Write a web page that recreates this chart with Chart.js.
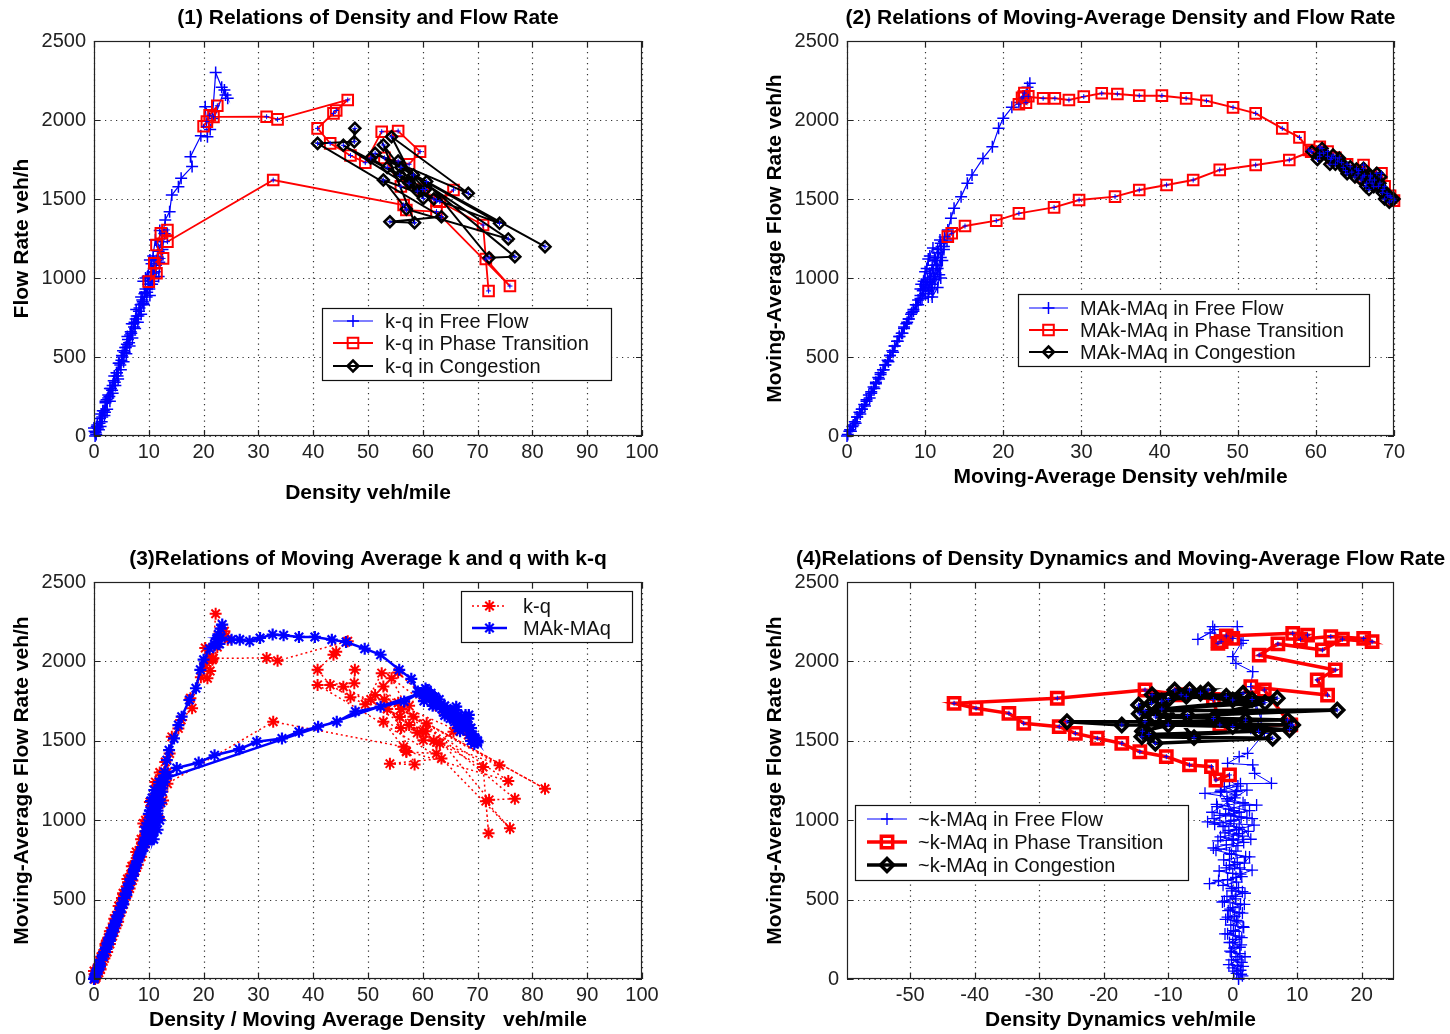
<!DOCTYPE html>
<html>
<head>
<meta charset="utf-8">
<script src="https://cdn.jsdelivr.net/npm/chart.js@4.4.1/dist/chart.umd.min.js"></script>
<style>
html, body { margin: 0; padding: 0; background: #fff; }
#wrap { position: relative; width: 1450px; height: 1034px; }
#wrap canvas { position: absolute; left: 0; top: 0; }
</style>
</head>
<body>
<div id="wrap">
  <canvas id="c1" width="1450" height="1034"></canvas>
  <canvas id="c2" width="1450" height="1034"></canvas>
  <canvas id="c3" width="1450" height="1034"></canvas>
  <canvas id="c4" width="1450" height="1034"></canvas>
</div>
<script>
// ticks
const yTicks = [0, 500, 1000, 1500, 2000, 2500];
const xTicks100 = [0, 10, 20, 30, 40, 50, 60, 70, 80, 90, 100];
const xTicks70 = [0, 10, 20, 30, 40, 50, 60, 70];
const xTicksDyn = [-50, -40, -30, -20, -10, 0, 10, 20];

// (1) density k vs flow q  [k, q], null = break in the line
const kqFree = [
  [0.1,30],[0.4,10],[0.6,70],[0.9,40],[1.1,110],[1.4,90],[1.6,160],[1.9,130],[2.1,210],[2.4,170],
  [2.6,260],[2.9,220],[3.1,300],[3.4,270],[3.6,350],[3.9,320],[4.1,400],[4.4,360],[4.6,460],[4.9,420],
  [5.1,510],[5.4,470],[5.7,560],[5.9,520],[6.2,610],[6.5,570],[6.7,660],[7.0,620],[7.2,710],[7.5,680],
  [7.8,760],[8.0,720],[8.3,810],[8.6,770],[8.8,860],[9.1,830],[9.3,910],[9.6,880],[9.9,960],[10.1,930],
  [10.4,1010],[10.6,980],[10.9,1060],[11.1,1040],[11.4,1110],[11.8,1170],[12.3,1230],[13.0,1367],[13.8,1420],[14.2,1525],
  [15.4,1578],[15.9,1631],[17.9,1705],[17.6,1768],[19.5,1900],[20.7,1894],[20.3,2084],[21.6,2010],[22.2,2300],[23.3,2207],
  [24.0,2158],[24.4,2137],[23.8,2190],[21.2,1940],
  null,
  [10.6,960],[9.8,1010],[10.2,890],[9.4,930],[9.0,840],[8.6,880],[8.2,790],[7.7,800],[7.4,720],[6.9,710],
  [6.6,640],[6.1,630],[5.8,560],[5.3,540],[5.0,480],[4.5,460],[4.2,400],[3.7,380],[3.4,320],[2.9,300],
  [2.6,240],[2.1,220],[1.8,160],[1.3,140],[1.0,80],[0.5,60],[0.2,0],[0.0,50],
  null,
  [0.3,20],[0.7,50],[1.2,60],[1.5,120],[2.0,150],[2.3,230],[2.8,250],[3.3,290],[3.8,340],[4.3,380],
  [4.8,450],[5.2,500],[5.6,530],[6.0,580],[6.4,590],[6.8,650],[7.3,690],[7.6,740],[8.1,760],[8.5,830],
  [8.9,850],[9.2,900],[9.7,910],[10.0,1000],[10.3,960],[10.7,1040],[11.0,1000],[11.3,1080],[11.6,1120],[10.2,1114],
  null,
  [9.4,1000],[10.8,1140],[11.9,1100],[12.5,1180],[11.2,1240],[10.5,1090],[9.0,980],[11.8,1010],[12.9,1280],[12.0,1300]
];
const kqTrans = [
  [20.0,1960],[20.6,1990],[21.1,2030],[22.5,2090],[21.8,2020],[31.5,2021],[33.5,2004],[46.3,2127],[43.7,2042],[44.2,2060],
  [40.8,1947],[43.1,1852],[46.8,1775],[49.5,1730],[52.5,1926],[55.5,1930],[59.5,1800],[57.5,1720],[53.0,1760],[56.0,1580],
  [60.0,1560],[62.5,1490],[65.6,1557],[63.1,1483],[71.0,1335],[72.0,918],[71.5,1120],[75.9,949],[62.5,1420],[57.0,1430],
  [56.5,1462],[32.7,1620],[13.4,1230],[13.4,1304],[12.2,1283],[11.4,1209],[12.6,1124],[11.0,1093],[11.4,1030],[10.0,977]
];
const kqCong = [
  [47.6,1947],[47.5,1863],[40.8,1852],[63.4,1388],[54.0,1356],[58.5,1350],[52.8,1842],[60.1,1504],[54.3,1894],[68.3,1536],
  [51.3,1789],[58.3,1652],[74.0,1346],[52.8,1620],[57.0,1436],[75.6,1247],[56.0,1700],[82.3,1198],[60.7,1610],[72.1,1128],
  [76.8,1135],[55.5,1740],[60.5,1560],[53.5,1700],[62.0,1500],[50.5,1760],[57.5,1600],[59.0,1550],[45.5,1840],[55.8,1650]
];

// (2) moving-average density vs moving-average flow
const maFree = [
  [0.1,10],[0.4,40],[0.7,60],[1.0,90],[1.3,120],[1.6,150],[1.9,170],[2.2,200],[2.5,230],[2.8,260],
  [3.1,280],[3.4,310],[3.7,340],[4.0,370],[4.3,400],[4.6,420],[4.9,450],[5.2,480],[5.5,510],[5.8,540],
  [6.1,570],[6.4,600],[6.7,630],[7.0,650],[7.3,680],[7.6,710],[7.9,740],[8.2,770],[8.5,800],[8.8,830],
  [9.1,860],[9.4,890],[9.7,920],[10.0,950],[10.3,990],[10.6,1030],[10.9,1080],[11.2,1130],[11.6,1180],[12.0,1220],
  [12.5,1260],[12.9,1304],[13.3,1378],[13.7,1441],[14.6,1515],[15.4,1599],[16.0,1652],[17.4,1757],[18.6,1831],[19.4,1947],
  [20.0,2011],[21.1,2080],[22.0,2110],[23.1,2207],[23.4,2232],
  null,
  [12.8,1240],[12.4,1200],[12.0,1130],[11.6,1060],[11.2,990],[10.8,930],[10.4,880],[10.9,960],[11.5,1080],[11.1,1010],
  [10.5,940],[10.0,900],[9.6,870],[9.1,830],[8.5,790],[7.9,740],[7.3,690],[6.7,630],[6.1,570],[5.5,510],
  [4.9,450],[4.3,390],[3.7,330],[3.1,270],[2.5,220],[1.9,170],[1.3,120],[0.8,70],[0.3,30],[0.0,0],
  null,
  [0.5,30],[1.1,80],[1.7,140],[2.3,190],[2.9,240],[3.5,300],[4.1,360],[4.7,420],[5.3,470],[5.9,530],
  [6.5,600],[7.1,650],[7.7,720],[8.3,780],[8.9,830],[9.4,870],[9.8,930],[10.1,970],[10.4,920],[10.7,1000],
  [11.0,1050],[10.6,980],[11.3,1110],[11.7,1160],[11.4,1080],[12.1,1200],[11.9,1240],[12.4,1230],
  null,
  [9.5,960],[10.0,1040],[9.8,980],[10.4,1120],[10.2,1060],[11.8,1020],[12.2,1110],[11.6,940],[10.9,880],[12.4,1180],
  [11.0,1190],[10.6,1140],[9.4,930],[12.0,1000]
];
const maTrans = [
  [22.0,2100],[22.4,2140],[22.9,2110],[22.7,2170],[23.2,2150],[22.6,2148],[25.1,2137],[26.6,2137],[28.4,2127],[30.3,2148],
  [32.6,2169],[34.6,2165],[37.4,2154],[40.3,2154],[43.4,2137],[46.0,2122],[49.4,2080],[52.3,2042],[55.7,1947],[57.9,1890],
  [59.1,1810],[60.5,1830],[61.5,1800],[62.5,1760],[64.0,1720],[65.5,1680],[66.1,1715],[67.0,1640],[68.4,1663],[68.8,1580],
  [69.5,1520],[70.0,1490],[66.0,1640],[62.0,1760],[60.5,1790],[59.4,1800],[56.6,1747],[52.3,1715],[47.7,1684],[44.3,1620],
  [40.9,1589],[37.4,1557],[34.3,1515],[29.7,1494],[26.5,1447],[22.0,1409],[19.1,1363],[15.1,1329],[13.4,1283],[12.9,1262]
];
const maCong = [
  [59.5,1800],[60.2,1750],[60.8,1820],[61.5,1770],[62.2,1778],[61.8,1720],[62.8,1740],[63.5,1700],[63.0,1760],[64.4,1704],
  [64.0,1660],[65.2,1690],[65.0,1640],[66.1,1694],[65.8,1620],[66.5,1600],[67.0,1650],[67.8,1663],[67.4,1578],[66.8,1560],
  [68.2,1600],[68.5,1540],[69.1,1536],[68.8,1500],[69.7,1494],[69.4,1480],[70.0,1500],[60.5,1770],[61.0,1790],[61.9,1750],
  [62.5,1720],[63.3,1730],[63.8,1680],[64.6,1670],[65.4,1660],[66.2,1650],[66.9,1620],[67.5,1620],[68.0,1580],[68.6,1560],
  [69.2,1520],[69.6,1510],[68.3,1640],[67.2,1600],[66.4,1580]
];

// (4) density dynamics vs moving-average flow
const dynFree = [
  [0.9,0],[1.3,30],[0.2,50],[1.6,80],[-0.6,90],[0.8,120],[1.9,140],[-0.2,170],[1.1,200],[0.0,230],
  [1.4,260],[-1.2,284],[0.4,300],[1.6,330],[0.6,369],[-0.8,390],[1.0,420],[-0.4,440],[1.8,470],[-1.3,490],
  [0.5,520],[1.5,550],[-0.2,570],[-2.2,621],[-3.6,600],[0.5,640],[1.2,660],[3.0,685],[-1.0,700],[0.3,720],
  [1.8,730],[2.6,769],[-0.5,790],[-2.6,811],[0.8,840],[-0.1,874],[1.5,900],[-1.2,920],[0.6,940],[3.3,969],
  [-3.9,990],[-1.5,960],[0.2,1000],[1.3,1020],[-2.0,1030],[1.0,1050],[-0.6,1070],[1.9,1095],[3.7,1095],[-0.8,1120],
  [0.3,1140],[-4.3,1169],[0.6,1180],[-1.3,1211],[1.2,1230],[6.0,1232],[3.4,1295],[3.1,1348],[-0.8,1358],[1.0,1400],
  [2.3,1421],[4.9,1547],[2.8,1579],[4.4,1631],[3.6,1736],[2.8,1841],[3.1,1935],[0.5,1988],[0.0,2030],[1.3,2114],
  [0.7,2219],[-3.1,2219],[-2.8,2200],[-5.4,2139],[-3.5,2180],[1.6,2133],
  null,
  [-0.5,1250],[0.8,1215],[-1.8,1190],[0.4,1160],[-0.9,1135],[1.6,1110],[-2.4,1085],[0.2,1060],[-1.1,1040],[2.2,1015],
  [-0.3,995],[-2.8,975],[1.0,955],[-0.6,935],[0.9,915],[-1.9,895],[0.1,880],[1.7,860],[-1.0,845],[-3.0,825],
  [0.5,805],[-0.2,785],[2.0,770],[-1.4,750],[0.7,735],[-0.5,715],[1.1,700],[-2.1,680],[0.0,665],[1.4,645],
  [-0.8,625],[0.6,610],[-1.5,590],[0.9,575],[-0.1,555],[1.9,540],[-0.9,520],[0.4,505],[-1.6,485],[1.2,470],
  [0.0,450],[-0.7,430],[1.5,415],[0.3,395],[-1.1,375],[0.8,360],[-0.3,340],[1.7,325],[0.1,305],[-0.8,285],
  [1.0,270],[0.4,250],[-0.5,230],[1.3,215],[0.2,195],[-0.4,175],[1.1,160],[0.5,140],[-0.2,120],[1.4,105],
  [0.7,85],[0.0,70],[1.2,55],[0.6,35],[1.5,20],[0.9,5],
  null,
  [-2.5,1100],[2.6,1060],[-2.9,1010],[2.4,930],[-2.3,870],[2.8,880],[-1.9,1180],[2.2,1190],[-3.2,1050],[3.0,1010]
];
const dynTrans = [
  [-1.8,2124],[0.0,2145],[-2.3,2114],[-1.0,2160],[9.3,2177],[11.6,2166],[10.5,2140],[15.2,2156],[20.3,2145],[21.6,2124],
  [17.0,2140],[13.9,2072],[7.0,2110],[4.1,2040],[15.9,1946],[13.1,1883],[14.7,1788],[2.8,1841],[4.9,1820],[9.0,1600],
  [-2.0,1600],[-3.0,1760],[-8.0,1790],[-13.6,1820],[-27.2,1768],[-43.2,1736],[-39.8,1705],[-34.7,1673],[-32.4,1610],[-26.9,1589],
  [-24.4,1547],[-21.0,1516],[-17.2,1484],[-14.4,1431],[-10.3,1400],[-6.7,1348],[-3.3,1337],[-2.6,1253],[-0.5,1285]
];
const dynCong = [
  [-14.6,1725],[-12.6,1736],[-9.0,1820],[-6.7,1820],[-3.8,1820],[-10.0,1760],[1.6,1799],[0.0,1757],[-7.2,1780],[6.9,1768],
  [-13.6,1690],[16.2,1694],[-12.0,1650],[8.5,1631],[-25.7,1620],[-17.2,1600],[9.3,1600],[-13.6,1620],[8.8,1570],[-14.1,1526],
  [6.2,1516],[-12.0,1484],[-14.0,1560],[5.0,1740],[-11.0,1700],[-12.5,1790],[-5.0,1800],[-1.0,1780],[3.0,1760],[-14.5,1670],
  [-7.0,1660],[-3.0,1640],[2.0,1630],[-10.0,1600],[0.0,1590],[4.0,1560],[-13.0,1540],[-6.0,1520],[-11.0,1750]
];

const FONT = '"Liberation Sans", Arial, Helvetica, sans-serif';
const NONE = 'rgba(0,0,0,0)';

const pts = arr => arr.map(p => p ? { x: p[0], y: p[1] } : { x: null, y: null });

function series(label, arr, st) {
  return Object.assign({
    label: label,
    data: pts(arr),
    showLine: true,
    clip: false,
    backgroundColor: NONE,
    pointBackgroundColor: NONE
  }, st);
}

function style(color, lw, marker, r, mw, dash) {
  return {
    borderColor: color, borderWidth: lw, borderDash: dash || [],
    pointStyle: marker, pointRadius: r, pointHoverRadius: r,
    pointBorderColor: color, pointBorderWidth: mw
  };
}

// markers for the legend samples
function drawMarker(ctx, st, x, y, r) {
  ctx.beginPath();
  if (st === 'cross' || st === 'star') {
    ctx.moveTo(x - r, y); ctx.lineTo(x + r, y);
    ctx.moveTo(x, y - r); ctx.lineTo(x, y + r);
    if (st === 'star') {
      const d = r * Math.SQRT1_2;
      ctx.moveTo(x - d, y - d); ctx.lineTo(x + d, y + d);
      ctx.moveTo(x - d, y + d); ctx.lineTo(x + d, y - d);
    }
  } else if (st === 'rect') {
    const s = r * Math.SQRT1_2;
    ctx.rect(x - s, y - s, 2 * s, 2 * s);
  } else if (st === 'rectRot') {
    ctx.moveTo(x, y - r); ctx.lineTo(x + r, y); ctx.lineTo(x, y + r); ctx.lineTo(x - r, y); ctx.closePath();
  }
  ctx.stroke();
}

// grid, box, inward ticks, legend and title drawn like the original figure
function frame(cfg) {
  return {
    id: 'frame',
    beforeDatasetsDraw(chart) {
      const { ctx, chartArea: a, scales: { x, y } } = chart;
      ctx.save();
      ctx.strokeStyle = '#333';
      ctx.lineWidth = 1.2;
      ctx.setLineDash([1.2, 4.3]);
      ctx.beginPath();
      x.ticks.forEach(t => {
        const px = Math.round(x.getPixelForValue(t.value)) + 0.5;
        ctx.moveTo(px, a.top); ctx.lineTo(px, a.bottom);
      });
      y.ticks.forEach(t => {
        const py = Math.round(y.getPixelForValue(t.value)) + 0.5;
        ctx.moveTo(a.left, py); ctx.lineTo(a.right, py);
      });
      ctx.stroke();
      ctx.restore();
    },
    afterDatasetsDraw(chart) {
      const { ctx, chartArea: a, scales: { x, y } } = chart;
      ctx.save();
      ctx.strokeStyle = '#222';
      ctx.lineWidth = 1.2;
      ctx.strokeRect(a.left + 0.5, a.top + 0.5, a.width - 1, a.height - 1);
      ctx.beginPath();
      x.ticks.forEach(t => {
        const px = Math.round(x.getPixelForValue(t.value)) + 0.5;
        ctx.moveTo(px, a.bottom); ctx.lineTo(px, a.bottom - 6);
        ctx.moveTo(px, a.top); ctx.lineTo(px, a.top + 6);
      });
      y.ticks.forEach(t => {
        const py = Math.round(y.getPixelForValue(t.value)) + 0.5;
        ctx.moveTo(a.left, py); ctx.lineTo(a.left + 6, py);
        ctx.moveTo(a.right, py); ctx.lineTo(a.right - 6, py);
      });
      ctx.stroke();

      // legend
      const L = cfg.legend;
      ctx.fillStyle = '#fff';
      ctx.fillRect(L.x, L.y, L.w, L.h);
      ctx.strokeStyle = '#111';
      ctx.lineWidth = 1.2;
      ctx.strokeRect(L.x + 0.5, L.y + 0.5, L.w, L.h);
      const items = chart.data.datasets.filter(d => !d.noLegend);
      items.forEach((d, i) => {
        const ry = L.rows[i];
        ctx.strokeStyle = d.borderColor;
        ctx.lineWidth = d.borderWidth;
        ctx.setLineDash(d.borderDash || []);
        ctx.beginPath();
        ctx.moveTo(L.s1, ry); ctx.lineTo(L.s2, ry);
        ctx.stroke();
        ctx.setLineDash([]);
        ctx.lineWidth = d.pointBorderWidth;
        drawMarker(ctx, d.pointStyle, (L.s1 + L.s2) / 2, ry, d.pointRadius);
        ctx.fillStyle = '#111';
        ctx.font = '20px ' + FONT;
        ctx.textAlign = 'left';
        ctx.textBaseline = 'middle';
        ctx.fillText(d.label, L.tx, ry + 1);
      });

      // title
      ctx.fillStyle = '#000';
      ctx.font = 'bold 21px ' + FONT;
      ctx.textAlign = 'center';
      ctx.textBaseline = 'middle';
      ctx.fillText(cfg.title, (a.left + a.right) / 2, a.top - 23);
      ctx.restore();
    }
  };
}

function makeChart(id, cfg) {
  const n = cfg.datasets.length;
  cfg.datasets.forEach((d, i) => { d.order = n - i; });
  const tickFont = { family: FONT, size: 20 };
  const titleFont = { family: FONT, size: 21, weight: 'bold' };
  return new Chart(document.getElementById(id), {
    type: 'scatter',
    data: { datasets: cfg.datasets },
    options: {
      responsive: false,
      animation: false,
      events: [],
      layout: { padding: cfg.padding },
      plugins: { legend: { display: false }, tooltip: { enabled: false } },
      scales: {
        x: {
          type: 'linear', min: cfg.xMin, max: cfg.xMax,
          afterBuildTicks: s => { s.ticks = cfg.xTicks.map(v => ({ value: v })); },
          afterFit: s => { s.height = cfg.xAxisH; },
          grid: { display: false, drawTicks: false },
          border: { display: false },
          ticks: { font: tickFont, color: '#222', padding: 4, maxRotation: 0, autoSkip: false, callback: v => String(v) },
          title: { display: true, text: cfg.xTitle, font: titleFont, color: '#000', padding: { top: 0, bottom: cfg.xTitlePad } }
        },
        y: {
          type: 'linear', min: 0, max: 2500,
          afterBuildTicks: s => { s.ticks = yTicks.map(v => ({ value: v })); },
          afterFit: s => { s.width = 94; },
          grid: { display: false, drawTicks: false },
          border: { display: false },
          ticks: { font: tickFont, color: '#222', padding: 8, callback: v => String(v) },
          title: { display: true, text: cfg.yTitle, font: titleFont, color: '#000', padding: { top: 10, bottom: 0 } }
        }
      }
    },
    plugins: [frame(cfg)]
  });
}

const BLUE = '#0000ff', RED = '#ff0000', BLACK = '#000000';
const overlay = arr => series('', arr, Object.assign(style(BLUE, 1, 'cross', 2.5, 1), { showLine: false, noLegend: true }));

makeChart('c1', {
  title: '(1) Relations of Density and Flow Rate',
  xTitle: 'Density veh/mile', yTitle: 'Flow Rate veh/h',
  xMin: 0, xMax: 100, xTicks: xTicks100,
  padding: { left: 0, top: 41, right: 808, bottom: 528 }, xAxisH: 70, xTitlePad: 0,
  legend: { x: 322, y: 308, w: 289, h: 72, rows: [321, 343, 366], s1: 333, s2: 373, tx: 385 },
  datasets: [
    series('k-q in Free Flow', kqFree, style(BLUE, 1.2, 'cross', 6, 1.5)),
    series('k-q in Phase Transition', kqTrans, style(RED, 1.8, 'rect', 7.5, 2)),
    series('k-q in Congestion', kqCong, style(BLACK, 2, 'rectRot', 5.5, 2.5)),
    overlay([...kqTrans, ...kqCong])
  ]
});

makeChart('c2', {
  title: '(2) Relations of Moving-Average Density and Flow Rate',
  xTitle: 'Moving-Average Density veh/mile', yTitle: 'Moving-Average Flow Rate veh/h',
  xMin: 0, xMax: 70, xTicks: xTicks70,
  padding: { left: 753, top: 41, right: 56, bottom: 528 }, xAxisH: 70, xTitlePad: 16,
  legend: { x: 1018, y: 294, w: 351, h: 72, rows: [308, 330, 352], s1: 1029, s2: 1068, tx: 1080 },
  datasets: [
    series('MAk-MAq in Free Flow', maFree, style(BLUE, 1.2, 'cross', 6, 1.5)),
    series('MAk-MAq in Phase Transition', maTrans, style(RED, 2, 'rect', 7.5, 2)),
    series('MAk-MAq in Congestion', maCong, style(BLACK, 2, 'rectRot', 5.5, 2.5)),
    overlay([...maTrans, ...maCong])
  ]
});

makeChart('c3', {
  title: '(3)Relations of Moving Average k and q with k-q',
  xTitle: 'Density / Moving Average Density   veh/mile', yTitle: 'Moving-Average Flow Rate veh/h',
  xMin: 0, xMax: 100, xTicks: xTicks100,
  padding: { left: 0, top: 582, right: 808, bottom: 0 }, xAxisH: 55, xTitlePad: 1,
  legend: { x: 461, y: 591, w: 171, h: 51, rows: [606, 628], s1: 472, s2: 507, tx: 523 },
  datasets: [
    series('k-q', [...kqFree, null, ...kqTrans, null, ...kqCong], style(RED, 1.5, 'star', 6, 2, [2, 3])),
    series('MAk-MAq', [...maFree, null, ...maTrans, ...maCong], style(BLUE, 2.5, 'star', 6, 2.2))
  ]
});

makeChart('c4', {
  title: '(4)Relations of Density Dynamics and Moving-Average Flow Rate',
  xTitle: 'Density Dynamics veh/mile', yTitle: 'Moving-Average Flow Rate veh/h',
  xMin: -59.8, xMax: 25, xTicks: xTicksDyn,
  padding: { left: 753, top: 582, right: 56, bottom: 0 }, xAxisH: 55, xTitlePad: 1,
  legend: { x: 855, y: 805, w: 333, h: 75, rows: [819, 842, 865], s1: 867, s2: 907, tx: 918 },
  datasets: [
    series('~k-MAq in Free Flow', dynFree, style(BLUE, 1, 'cross', 6, 1.3)),
    series('~k-MAq in Phase Transition', dynTrans, style(RED, 3.5, 'rect', 8, 3.5)),
    series('~k-MAq in Congestion', dynCong, style(BLACK, 3.5, 'rectRot', 6.5, 3.5)),
    overlay([...dynTrans, ...dynCong])
  ]
});
</script>
</body>
</html>
